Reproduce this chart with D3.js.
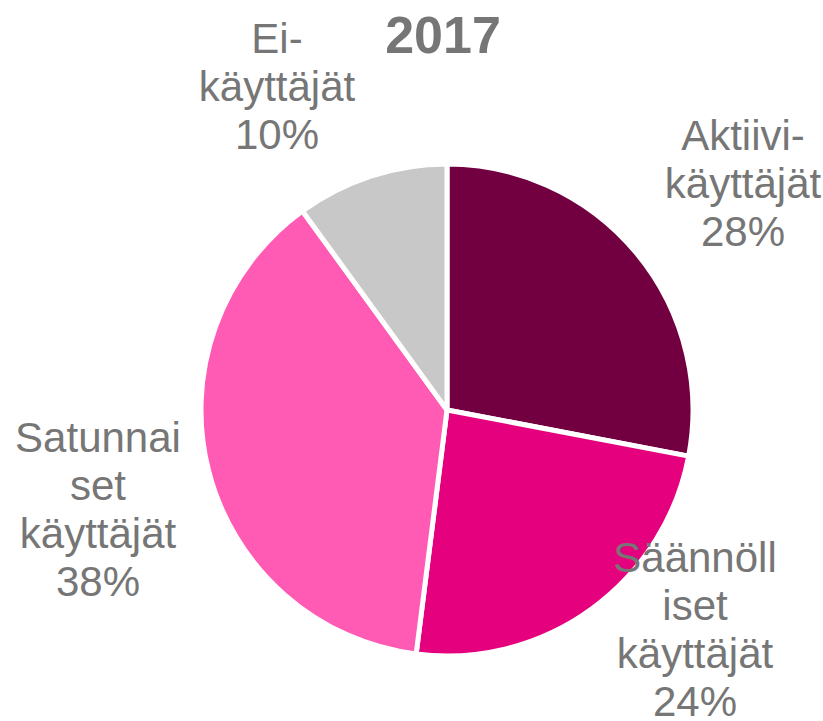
<!DOCTYPE html>
<html>
<head>
<meta charset="utf-8">
<script src="https://cdn.jsdelivr.net/npm/d3@7"></script>
<style>
  body { margin: 0; background: #fff; }
  svg { display: block; font-family: "Liberation Sans", Arial, sans-serif; }
</style>
</head>
<body>
<script>
// Chart data
const title = "2017";
const categories = ["Aktiivi-käyttäjät", "Säännölliset käyttäjät", "Satunnaiset käyttäjät", "Ei-käyttäjät"];
const values = [28, 24, 38, 10];
const colors = ["#720040", "#E5007E", "#FF5AB4", "#C8C8C8"];
// label lines as wrapped in the original
const labelLines = [
  ["Aktiivi-", "käyttäjät"],
  ["Säännöll", "iset", "käyttäjät"],
  ["Satunnai", "set", "käyttäjät"],
  ["Ei-", "käyttäjät"]
];

const width = 823, height = 721;
const cx = 447, cy = 410, radius = 246;

const svg = d3.select("body").append("svg")
  .attr("width", width)
  .attr("height", height);

const pie = d3.pie().sort(null).value(d => d);
const arcs = pie(values);
const arc = d3.arc().innerRadius(0).outerRadius(radius);

const g = svg.append("g").attr("transform", `translate(${cx},${cy})`);

g.selectAll("path")
  .data(arcs)
  .join("path")
  .attr("d", arc)
  .attr("fill", (d, i) => colors[i])
  .attr("stroke", "#fff")
  .attr("stroke-width", 5)
  .attr("stroke-linejoin", "round");

// label anchors: centre x and first baseline, relative to pie centre
const labelPos = [[296, -260], [248, 162], [-349, 42], [-170, -357]];
const lineH = 48;

arcs.forEach((a, i) => {
  const lines = labelLines[i].concat([d3.format(".0%")(a.data / 100)]);
  const t = g.append("text")
    .attr("text-anchor", "middle")
    .attr("fill", "#767676")
    .attr("font-size", 42);
  lines.forEach((s, j) => {
    t.append("tspan")
      .attr("x", labelPos[i][0])
      .attr("y", labelPos[i][1] + j * lineH)
      .text(s);
  });
});

// Title
svg.append("text")
  .attr("x", 443)
  .attr("y", 53)
  .attr("text-anchor", "middle")
  .attr("font-size", 52)
  .attr("font-weight", "bold")
  .attr("fill", "#767676")
  .text(title);
</script>
</body>
</html>
